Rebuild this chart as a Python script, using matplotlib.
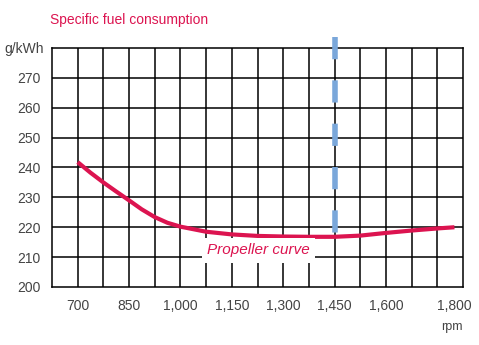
import numpy as np
import matplotlib
matplotlib.use("Agg")
import matplotlib.pyplot as plt

plt.rcParams['font.family'] = ['Liberation Sans', 'DejaVu Sans']

# propeller curve
rpm = [700, 737, 775, 812, 850, 887, 925, 962, 1000, 1075, 1150, 1225, 1300, 1375, 1450, 1525, 1600, 1675, 1750, 1800]
sfc = [241.8, 238.3, 235.0, 232.0, 229.0, 226.0, 223.4, 221.5, 220.2, 218.5, 217.6, 217.1, 216.9, 216.8, 216.8, 217.2, 218.1, 218.9, 219.6, 220.0]

xticks = [700, 850, 1000, 1150, 1300, 1450, 1600, 1800]
xlabels = ["700", "850", "1,000", "1,150", "1,300", "1,450", "1,600", "1,800"]
yticks = [200, 210, 220, 230, 240, 250, 260, 270]
x_grid = np.arange(700, 1825, 75)
rated_rpm = 1450

red = '#dc1450'
grey = '#444444'

fig = plt.figure(figsize=(4.79, 3.45), dpi=100)
ax = fig.add_axes([52/479, 58/345, 411/479, 239/345])

ax.set_xlim(625, 1825)
ax.set_ylim(200, 280)

# grid every 75 rpm / 10 g/kWh
for x in x_grid:
    ax.axvline(x, color='black', linewidth=1.1, zorder=1)
for y in yticks[1:]:
    ax.axhline(y, color='black', linewidth=1.1, zorder=1)
for s in ax.spines.values():
    s.set_linewidth(1.1)

ax.set_xticks(xticks)
ax.set_xticklabels(xlabels)
ax.set_yticks(yticks)
ax.tick_params(which='both', length=0)
ax.tick_params(axis='x', pad=9, labelsize=10, labelcolor=grey)
ax.tick_params(axis='y', pad=8, labelsize=10, labelcolor=grey)

# dashed marker at rated speed
ax.plot([rated_rpm, rated_rpm], [283.8, 217.3], color='#7aa7da', linewidth=4,
        dashes=(4, 3.8), clip_on=False, zorder=3)

ax.plot(rpm, sfc, color=red, linewidth=3, solid_capstyle='butt',
        solid_joinstyle='round', zorder=4)

ax.text(1228, 212.3, "Propeller curve", color=red, fontsize=11, style='italic',
        ha='center', va='center', zorder=5,
        bbox=dict(facecolor='white', edgecolor='none', pad=4))

fig.text(50/479, 1 - 20/345, "Specific fuel consumption", color=red, fontsize=10,
         ha='left', va='center')
fig.text(44/479, 1 - 49/345, "g/kWh", color=grey, fontsize=10, ha='right', va='center')
fig.text(463/479, 1 - 327/345, "rpm", color=grey, fontsize=9, ha='right', va='center')

fig.savefig("out.png", dpi=100)
